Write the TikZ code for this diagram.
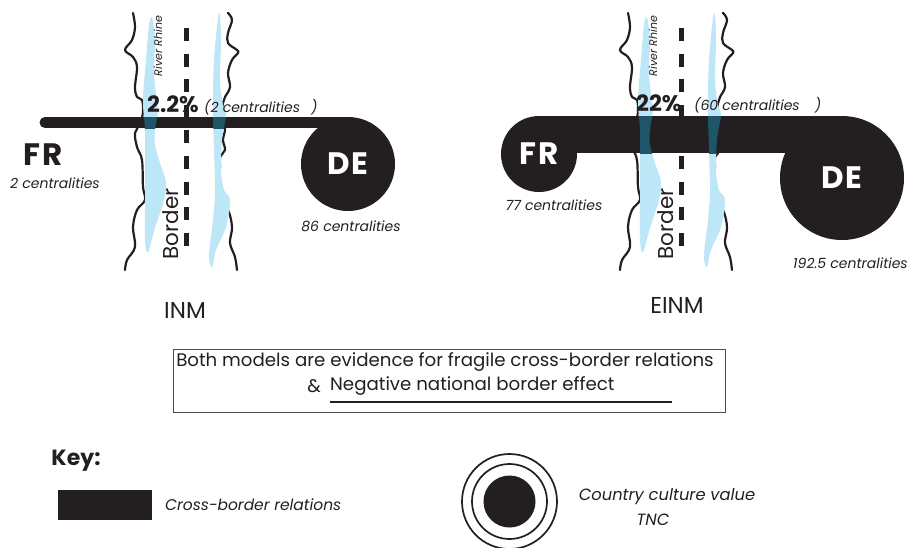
\documentclass[tikz,border=0pt]{standalone}
\usepackage{fontspec}
\setmainfont{Poppins}
\definecolor{ink}{HTML}{231F20}
\definecolor{rblue}{HTML}{BDE6F7}
\definecolor{rteal}{HTML}{1E5568}
\tikzset{
  bank/.style={ink, line width=2.2pt, line join=round, line cap=round},
  borderline/.style={ink, line width=5pt, dash pattern=on 13pt off 12.6pt},
  ball/.style={circle, fill=ink, inner sep=0pt},
  bigtag/.style={white, font=\fontsize{31}{32}\selectfont\bfseries},
  lefttag/.style={ink, font=\fontsize{31}{32}\selectfont\bfseries},
  cent/.style={ink, font=\fontsize{14}{16}\selectfont\itshape},
  pct/.style={ink, font=\fontsize{22.5}{24}\selectfont\bfseries, anchor=west, inner sep=0pt},
  rhine/.style={ink, rotate=90, font=\fontsize{11}{12}\selectfont\itshape, inner sep=0pt},
  bordertxt/.style={ink, rotate=90, font=\fontsize{21.5}{23}\selectfont, inner sep=0pt},
  model/.style={ink, font=\fontsize{23}{25}\selectfont},
  boxtxt/.style={ink, font=\fontsize{18.2}{20}\selectfont, inner sep=0pt},
  keytxt/.style={ink, font=\fontsize{15.5}{17}\selectfont\itshape},
}
\newcommand\RiverBanks[1]{%
  \draw[bank] plot[smooth, tension=0.6] coordinates {(133,13) (135,27) (132,40) (125,50) (133,57) (137,67) (135,87) (137,97) (142,100) (143,112) (140,124) (135,133) (137,147) (142,160) (143,187) (145,200) (137,210) (133,227) (135,247) (127,260) (125,270)};
  \draw[bank] plot[smooth, tension=0.6] coordinates {(228,13) (232,20) (228,33) (228,43) (237,50) (238,53) (232,60) (228,73) (230,87) (225,97) (223,103) (222,113) (224,122) (225,130) (223,140) (225,150) (220,157) (220,167) (218,180) (218,197) (228,210) (232,227) (230,243) (235,257) (237,270)};
  \coordinate (bt#1) at (186,28);
  \coordinate (bb#1) at (186,247);
  \draw[borderline] (bt#1) -- (bb#1);
}
\newcommand\RiverBlue[1]{%
  \fill[#1] plot[smooth cycle, tension=0.6] coordinates {(152,18) (155,40) (154,70) (156,95) (158,110) (155,130) (155,145) (160,163) (166,182) (164,200) (155,228) (148,252) (145,240) (145,200) (145,160) (145,130) (143,100) (146,60) (149,25)};
  \fill[#1] plot[smooth cycle, tension=0.6] coordinates {(219,13) (221,40) (220,80) (223,105) (226,115) (222,140) (221,170) (224,190) (230,200) (226,227) (216,250) (212,267) (209,255) (213,220) (215,190) (214,150) (213,110) (214,60)};
}
\begin{document}
\begin{tikzpicture}[x=1pt, y=-1pt]
\useasboundingbox (0,0) rectangle (908,547);

% ---------------- left panel (INM) ----------------
\RiverBanks{L}
\RiverBlue{rblue}
\node[ball, minimum size=94pt] (deL) at (348,164) {};
\coordinate (lstart) at (45,122.5);
\draw[ink, line width=11pt, line cap=round] (lstart) -- (deL.center |- lstart);
\begin{scope}
  \clip (100,117) rectangle (260,128);
  \RiverBlue{rteal}
\end{scope}
\node[bigtag] (deLt) at (deL.center) {D\hspace{2pt}E};
\node[lefttag] (frLt) at (43,155) {F\hspace{2pt}R};
\node[cent] (frLc) at (55,183) {2 centralities};
\node[cent] (deLc) at (351,226) {86 centralities};
\node[pct] (pctL) at (147,104) {2.2\%};
\node[cent, anchor=west, inner sep=0pt] (pcLc) at (204,107) {(2 centralities\hspace{11pt})};
\node[rhine] (rrL) at (158,46) {River Rhine};
\node[bordertxt] (bdL) at (171,224) {Border};
\node[model] (inm) at (185,310) {INM};

% ---------------- right panel (EINM) ----------------
\begin{scope}[xshift=495pt]
  \RiverBanks{R}
  \RiverBlue{rblue}
\end{scope}
\node[ball, minimum size=76pt] (frR) at (539,154) {};
\node[ball, minimum size=124pt] (deR) at (842,178) {};
\coordinate (rmid) at (0,134.5);
\draw[ink, line width=37pt] (frR.center |- rmid) -- (deR.center |- rmid);
\begin{scope}[xshift=495pt]
  \clip (100,116) rectangle (260,153);
  \RiverBlue{rteal}
\end{scope}
\node[bigtag] (frRt) at (frR.center) {F\hspace{2pt}R};
\node[bigtag] (deRt) at (deR.center) {D\hspace{2pt}E};
\node[cent] (frRc) at (554,205) {77 centralities};
\node[cent, anchor=west, inner sep=0pt] (deRc) at (793,263) {192.5 centralities};
\node[pct] (pctR) at (636,103) {22\%};
\node[cent, anchor=west, inner sep=0pt] (pcRc) at (694,105) {(60 centralities\hspace{15pt})};
\node[rhine] (rrR) at (653,46) {River Rhine};
\node[bordertxt] (bdR) at (666,224) {Border};
\node[model] (einm) at (677,305) {EINM};

% ---------------- conclusion box ----------------
\node[draw=ink!80, line width=1pt, minimum width=552pt, minimum height=63pt, inner sep=0pt] (box) at (449,380.5) {};
\node[boxtxt] (line1) at (445,362) {Both models are evidence for fragile cross-border relations};
\node[boxtxt] (amp) at (314,386) {\&};
\node[boxtxt, anchor=west] (line2) at (330,386) {Negative national border effect};
\coordinate (ul1) at (330,402);
\coordinate (ul2) at (672,402);
\draw[ink, line width=1.2pt] (ul1) -- (ul2);

% ---------------- key ----------------
\node[ink, font=\fontsize{22}{24}\selectfont\bfseries] (key) at (76,461) {Key:};
\node[fill=ink, minimum width=94pt, minimum height=30pt, inner sep=0pt] (keybar) at (105,505) {};
\node[keytxt, anchor=west, inner sep=0pt] (keybart) at (165,505) {Cross-border relations};
\node[circle, draw=ink, line width=1.7pt, minimum size=95pt, inner sep=0pt] (kc1) at (509.5,501.5) {};
\node[circle, draw=ink, line width=1.7pt, minimum size=75pt, inner sep=0pt] (kc2) at (kc1.center) {};
\node[ball, minimum size=52pt] (kc3) at (kc1.center) {};
\node[keytxt, font=\fontsize{16.3}{18}\selectfont\itshape] (kt1) at (667,497) {Country culture value};
\node[keytxt, font=\fontsize{16.3}{18}\selectfont\itshape] (kt2) at (653,520) {TNC};
\end{tikzpicture}
\end{document}
